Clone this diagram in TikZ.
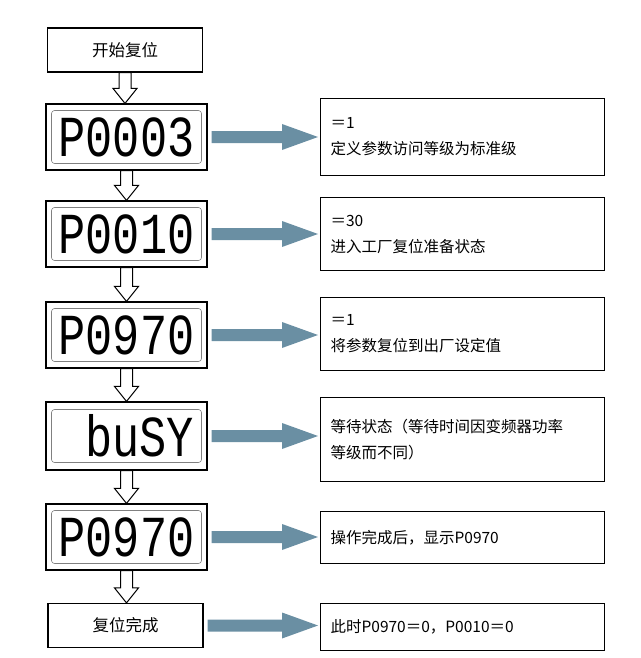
\documentclass[tikz,border=0pt]{standalone}
\usepackage{fontspec}
\setmainfont{Noto Sans CJK SC}
\newfontfamily\segfont{Liberation Mono}
\usetikzlibrary{calc,arrows.meta}
\definecolor{arrowblue}{HTML}{6A8FA3}
\tikzset{
 box/.style={draw,line width=1.2pt,minimum width=155pt,minimum height=44pt,font=\fontsize{16.5}{18}\selectfont},
 disp/.style={draw,line width=1.2pt,minimum width=161pt,minimum height=66pt},
 inner/.style={draw=gray,line width=0.6pt,rounded corners=3pt,minimum width=150pt,minimum height=53pt,font=\segfont\fontsize{58}{58}\selectfont,inner sep=0pt},
 note/.style={draw,line width=1.2pt,minimum width=284pt,anchor=north west,align=left,text width=264pt,inner xsep=10pt,font=\fontsize{15.5}{26}\selectfont},
 blue/.style={draw=none,fill=arrowblue},
}
\newcommand{\seg}[1]{\scalebox{0.78}[1]{#1}}
\newcommand{\hollow}[2]{%
 \path let \p1=(#1.south), \p2=(#2.north) in
 [draw,line width=1pt,fill=white] (\x1-6pt,\y1) -- (\x1-6pt,\y2+15pt) -- (\x1-12pt,\y2+15pt) -- (\x1,\y2) -- (\x1+12pt,\y2+15pt) -- (\x1+6pt,\y2+15pt) -- (\x1+6pt,\y1) -- cycle;}
\newcommand{\bluearrow}[2]{%
 \path let \p1=(#1.east), \p2=(#2.west) in
 [blue] (\x1+4pt,\y1-6pt) -- (\x2-38pt,\y1-6pt) -- (\x2-38pt,\y1-13pt) -- (\x2-2pt,\y1) -- (\x2-38pt,\y1+13pt) -- (\x2-38pt,\y1+6pt) -- (\x1+4pt,\y1+6pt) -- cycle;}
\begin{document}
\begin{tikzpicture}[x=1pt,y=-1pt]
\useasboundingbox (0,0) rectangle (640,658);
\node[box] (s) at (125,50) {开始复位};
\node[disp] (d1) at (126.5,137) {};
\node[inner] (i1) at (126.5,137) {\seg{P0003}};
\node[disp] (d2) at (126.5,234) {};
\node[inner] (i2) at (126.5,234) {\seg{P0010}};
\node[disp] (d3) at (126.5,335) {};
\node[inner] (i3) at (126.5,335) {\seg{P0970}};
\node[disp,minimum height=68pt] (d4) at (126.5,436) {};
\node[inner] (i4) at (126.5,436) {\hspace*{26pt}\seg{buSY}};
\node[disp] (d5) at (126.5,537) {};
\node[inner] (i5) at (126.5,537) {\seg{P0970}};
\node[box] (e) at (125.5,625.5) {复位完成};
\node[note,minimum height=77pt] (n1) at (320,98) {＝1\\定义参数访问等级为标准级};
\node[note,minimum height=73pt] (n2) at (320,197) {＝30\\进入工厂复位准备状态};
\node[note,minimum height=73pt] (n3) at (320,297) {＝1\\将参数复位到出厂设定值};
\node[note,minimum height=84pt] (n4) at (320,397) {等待状态（等待时间因变频器功率\\等级而不同）};
\node[note,minimum height=52pt] (n5) at (320,511) {操作完成后，显示P0970};
\node[note,minimum height=47pt] (n6) at (320,603) {此时P0970＝0，P0010＝0};
\hollow{s}{d1}\hollow{d1}{d2}\hollow{d2}{d3}\hollow{d3}{d4}\hollow{d4}{d5}\hollow{d5}{e}
\bluearrow{d1}{n1}\bluearrow{d2}{n2}\bluearrow{d3}{n3}\bluearrow{d4}{n4}\bluearrow{d5}{n5}\bluearrow{e}{n6}
\end{tikzpicture}
\end{document}
